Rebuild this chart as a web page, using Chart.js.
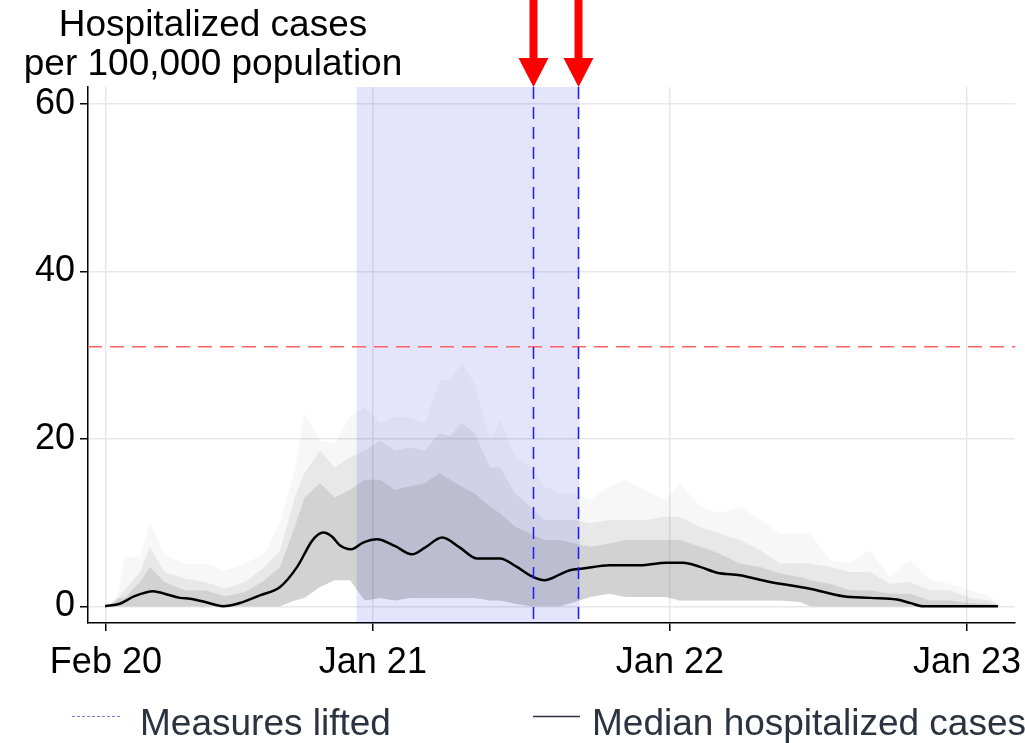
<!DOCTYPE html>
<html>
<head>
<meta charset="utf-8">
<script src="https://cdn.jsdelivr.net/npm/chart.js@4.4.1/dist/chart.umd.min.js"></script>
<style>
  html, body { margin: 0; padding: 0; background: #fff; }
</style>
</head>
<body>
<canvas id="hosp-chart" width="1025" height="743"></canvas>
<script>
// x values are days counted from 1 Jan 2020
var tickDays = [38, 366, 731, 1096];
var tickLabels = ['Feb 20', 'Jan 21', 'Jan 22', 'Jan 23'];
var yTicks = [0, 20, 40, 60];

// median of the simulated runs
var medianDays = [37, 55, 73, 96, 110, 129, 141, 160, 182, 203, 227, 252, 273, 292, 305, 316, 325, 339, 354, 371,
    393, 414, 430, 451, 473, 494, 522, 543, 559, 577, 596, 608, 624, 657, 694, 727, 747, 768, 789, 817,
    854, 903, 944, 977, 1010, 1026, 1042, 1134];
var medianCases = [0, 0.3, 1.2, 1.8, 1.5, 1.0, 0.9, 0.5, 0, 0.4, 1.3, 2.3, 4.7, 7.9, 8.8, 8.3, 7.3, 6.8, 7.6, 8.0,
    7.2, 6.2, 7.0, 8.2, 7.0, 5.7, 5.7, 4.7, 3.7, 3.1, 3.8, 4.3, 4.5, 4.9, 4.9, 5.2, 5.2, 4.7, 4.0, 3.7,
    2.9, 2.1, 1.2, 1.0, 0.8, 0.4, 0, 0];

// spread of the individual runs (lower edge, dense part, most runs, highest run)
var cloudDays = [43, 53, 61, 80, 92, 110, 135, 160, 184, 209, 233, 252, 270, 282, 301, 319, 338, 356, 375, 393,
    411, 430, 448, 461, 475, 491, 510, 522, 541, 559, 577, 596, 614, 633, 657, 676, 700, 725, 743, 768,
    792, 817, 842, 866, 891, 903, 928, 952, 977, 1001, 1026, 1051, 1075, 1100, 1124, 1137];
var cloudLow = [0, 0, 0, 0, 0, 0, 0, 0, 0, 0, 0, 0, 0.7, 1, 2.3, 3.1, 3.1, 0.7, 1, 0.7,
    1, 1, 1, 1, 1, 1, 0.7, 0.7, 0.3, 0, 0, 0, 0.5, 1.1, 1.5, 1.1, 1.1, 1.1, 0.7, 0.7,
    0.7, 0.7, 0.7, 0.7, 0.5, 0, 0, 0, 0, 0, 0, 0, 0, 0, 0, 0];
var cloudMid = [0, 1, 1, 2.9, 4.7, 2.9, 1.9, 1.9, 1.2, 1.7, 3.1, 4.7, 9.5, 13, 14.7, 13, 13.9, 15.1, 15.1, 13.9,
    14.3, 14.7, 15.9, 15.1, 14.3, 13.5, 11.9, 11.1, 9.5, 8.7, 7.9, 7.9, 7.5, 7.1, 7.5, 7.9, 7.9, 7.9, 7.9, 7.1,
    6.3, 5.1, 4.7, 3.9, 3.5, 3.1, 2.7, 1.9, 1.9, 1.5, 1.5, 0.7, 0.7, 0.4, 0.3, 0];
var cloudHigh = [0.2, 1, 1.9, 4.1, 7.1, 4.1, 3.3, 2.9, 2.1, 2.9, 4.7, 6.7, 13, 15.9, 18.6, 16.6, 17.8, 18.6, 19.8, 18.6,
    19, 18.6, 20.7, 20.3, 21.9, 20.7, 16.6, 16.6, 13.5, 11.9, 10.3, 10.3, 10.3, 9.9, 10.3, 10.3, 10.3, 10.7, 10.7, 9.5,
    8.7, 7.9, 6.7, 5.1, 5.1, 5.1, 4.7, 4.1, 4.1, 2.7, 2.9, 1.9, 1.9, 1.0, 0.7, 0];
var cloudMax = [0.3, 1.5, 5.9, 5.9, 9.9, 6.1, 5.1, 5.1, 4.3, 5.1, 6.3, 10, 16.3, 23, 19.8, 19.4, 22.6, 23.8, 21.9, 22.6,
    22.6, 21.9, 27, 27, 29, 26.6, 19.8, 22.2, 17.8, 16.6, 14.3, 13.5, 13.5, 12.7, 14.3, 15.1, 13.9, 12.7, 14.7, 11.9,
    11.1, 11.9, 10.3, 8.7, 8.7, 8.7, 5.5, 5.1, 6.7, 3.5, 5.5, 3.1, 2.7, 1.9, 1.2, 0];

var threshold = 31;
var shadeStart = 346, shadeEnd = 620;
var liftDays = [563, 618];

var xMin = 16, xMax = 1155;

function pts(xs, ys) {
    return xs.map(function (x, i) { return { x: x, y: ys[i] }; });
}

function band(label, values, color) {
    return {
        label: label,
        data: pts(cloudDays, values),
        borderWidth: 0,
        pointRadius: 0,
        backgroundColor: color,
        fill: { target: 0 },
        tension: 0,
        order: 5
    };
}

var fontFamily = '"Liberation Sans", Arial, sans-serif';

// shaded period, blue lines, arrows, title and legend
var overlay = {
    id: 'overlay',
    beforeDatasetsDraw: function (chart) {
        var ctx = chart.ctx, x = chart.scales.x, a = chart.chartArea;
        ctx.save();
        ctx.fillStyle = 'rgba(0,0,230,0.105)';
        var x0 = x.getPixelForValue(shadeStart), x1 = x.getPixelForValue(shadeEnd);
        ctx.fillRect(x0, a.top, x1 - x0, a.bottom - a.top);
        ctx.restore();
    },
    afterDatasetsDraw: function (chart) {
        var ctx = chart.ctx, x = chart.scales.x, a = chart.chartArea;
        ctx.save();
        liftDays.forEach(function (d) {
            var px = Math.round(x.getPixelForValue(d)) + 0.5;
            ctx.strokeStyle = '#1a1aff';
            ctx.lineWidth = 1.5;
            ctx.setLineDash([12, 8]);
            ctx.beginPath();
            ctx.moveTo(px, a.top);
            ctx.lineTo(px, a.bottom);
            ctx.stroke();

            // arrow pointing down at the line
            ctx.setLineDash([]);
            ctx.fillStyle = '#ff0000';
            ctx.fillRect(px - 4, 0, 8, 60);
            ctx.beginPath();
            ctx.moveTo(px - 15, 58);
            ctx.lineTo(px + 15, 58);
            ctx.lineTo(px, a.top);
            ctx.closePath();
            ctx.fill();
        });
        ctx.restore();
    },
    afterDraw: function (chart) {
        var ctx = chart.ctx;
        ctx.save();
        ctx.fillStyle = '#000';
        ctx.textAlign = 'center';
        ctx.textBaseline = 'alphabetic';
        ctx.font = '37px ' + fontFamily;
        ctx.fillText('Hospitalized cases', 213, 36);
        ctx.fillText('per 100,000 population', 213, 75);

        // legend
        var ly = 716;
        ctx.strokeStyle = '#7a7ad6';
        ctx.lineWidth = 1;
        ctx.setLineDash([3, 2]);
        ctx.beginPath();
        ctx.moveTo(72, ly + 0.5);
        ctx.lineTo(120, ly + 0.5);
        ctx.stroke();
        ctx.setLineDash([]);
        ctx.strokeStyle = '#2b3240';
        ctx.lineWidth = 1.5;
        ctx.beginPath();
        ctx.moveTo(533, ly + 0.5);
        ctx.lineTo(580, ly + 0.5);
        ctx.stroke();

        ctx.fillStyle = '#2b3240';
        ctx.textAlign = 'left';
        ctx.font = '37px ' + fontFamily;
        ctx.fillText('Measures lifted', 140, 735);
        ctx.fillText('Median hospitalized cases', 592, 735);
        ctx.restore();
    }
};

var tickFont = { family: fontFamily, size: 36 };

var hospChart = new Chart(document.getElementById('hosp-chart'), {
    type: 'line',
    data: {
        datasets: [
            {
                label: 'low',
                data: pts(cloudDays, cloudLow),
                borderWidth: 0,
                pointRadius: 0,
                fill: false,
                tension: 0,
                order: 6
            },
            band('max', cloudMax, 'rgba(40,40,40,0.035)'),
            band('high', cloudHigh, 'rgba(40,40,40,0.07)'),
            band('mid', cloudMid, 'rgba(40,40,40,0.11)'),
            {
                label: 'threshold',
                data: [{ x: xMin, y: threshold }, { x: xMax, y: threshold }],
                borderColor: '#ff6262',
                borderWidth: 1.5,
                borderDash: [14, 8],
                pointRadius: 0,
                fill: false,
                order: 1
            },
            {
                label: 'Median hospitalized cases',
                data: pts(medianDays, medianCases),
                borderColor: '#000',
                borderWidth: 2.5,
                pointRadius: 0,
                cubicInterpolationMode: 'monotone',
                fill: false,
                order: 0
            }
        ]
    },
    options: {
        responsive: false,
        animation: false,
        layout: { padding: { top: 87, right: 10, left: 0, bottom: 0 } },
        plugins: {
            legend: { display: false },
            tooltip: { enabled: false }
        },
        scales: {
            x: {
                type: 'linear',
                min: xMin,
                max: xMax,
                afterBuildTicks: function (scale) {
                    scale.ticks = tickDays.map(function (v) { return { value: v }; });
                },
                afterFit: function (scale) {
                    scale.height = 120;
                    // let the last label run into the margin
                    scale.paddingRight = 0;
                    scale.paddingLeft = 0;
                },
                ticks: {
                    color: '#000',
                    font: tickFont,
                    padding: 10,
                    maxRotation: 0,
                    autoSkip: false,
                    callback: function (v) {
                        var i = tickDays.indexOf(v);
                        return i >= 0 ? tickLabels[i] : '';
                    }
                },
                grid: { color: '#e8e8e8', lineWidth: 1.5, tickColor: '#000', tickLength: 8 },
                border: { color: '#000', width: 1.5 }
            },
            y: {
                min: -2,
                max: 62,
                afterBuildTicks: function (scale) {
                    scale.ticks = yTicks.map(function (v) { return { value: v }; });
                },
                afterFit: function (scale) { scale.width = 88; },
                ticks: { color: '#000', font: tickFont, padding: 5 },
                grid: { color: '#e8e8e8', lineWidth: 1.5, tickColor: '#000', tickLength: 8 },
                border: { color: '#000', width: 1.5 }
            }
        }
    },
    plugins: [overlay]
});
</script>
</body>
</html>
